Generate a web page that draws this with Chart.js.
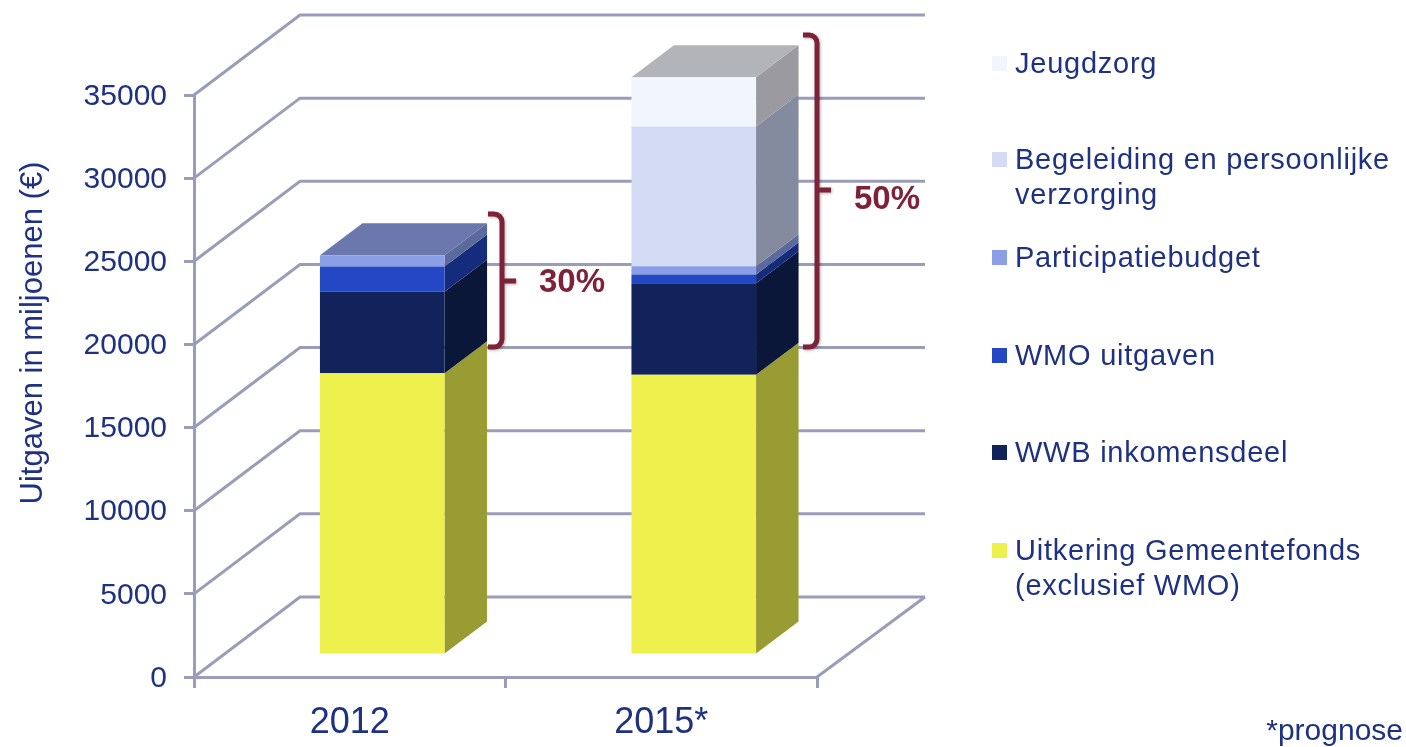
<!DOCTYPE html>
<html>
<head>
<meta charset="utf-8">
<title>Uitgaven gemeenten</title>
<script src="https://cdn.jsdelivr.net/npm/chart.js@4/dist/chart.umd.min.js"></script>
<style>
  html, body { margin: 0; padding: 0; background: #fff; }
  canvas { display: block; }
</style>
</head>
<body>
<canvas id="uitgavenChart" width="1406" height="747"></canvas>
<script>
  const years = ['2012', '2015*'];

  const gemeentefonds = [16940, 16860];
  const wwbInkomensdeel = [4900, 5500];
  const wmoUitgaven = [1520, 520];
  const participatiebudget = [680, 500];
  const begeleiding = [0, 8400];
  const jeugdzorg = [0, 2970];

  const navy = '#1f3282';
  const maroon = '#7d2238';
  const gridColor = '#9a9dba';
  const fontName = '"Liberation Sans", Arial, sans-serif';

  // 3D look: offset of the bars on the floor, depth of the bars, depth of the walls
  const barShift = { x: 32.5, y: -22 };
  const barDepth = { x: 42.5, y: -32 };
  const wallDepth = { x: 106, y: -80 };

  const series = [
    { label: 'Uitkering Gemeentefonds (exclusief WMO)', data: gemeentefonds, front: '#eef04e', side: '#999b33', top: '#999b33', legendY: 552, lines: ['Uitkering Gemeentefonds', '(exclusief WMO)'] },
    { label: 'WWB inkomensdeel', data: wwbInkomensdeel, front: '#12235c', side: '#0a1739', top: '#0a1739', legendY: 454, lines: ['WWB inkomensdeel'] },
    { label: 'WMO uitgaven', data: wmoUitgaven, front: '#2448c4', side: '#152c7c', top: '#152c7c', legendY: 357, lines: ['WMO uitgaven'] },
    { label: 'Participatiebudget', data: participatiebudget, front: '#8a9fe8', side: '#5a6a9c', top: '#6b78ae', legendY: 259, lines: ['Participatiebudget'] },
    { label: 'Begeleiding en persoonlijke verzorging', data: begeleiding, front: '#d3dbf5', side: '#858b9f', top: '#858b9f', legendY: 161, lines: ['Begeleiding en persoonlijke', 'verzorging'] },
    { label: 'Jeugdzorg', data: jeugdzorg, front: '#f1f5fd', side: '#9a9aa0', top: '#b3b4ba', legendY: 65, lines: ['Jeugdzorg'] }
  ];

  function fillPoly(ctx, color, pts) {
    ctx.fillStyle = color;
    ctx.beginPath();
    pts.forEach((p, i) => i ? ctx.lineTo(p[0], p[1]) : ctx.moveTo(p[0], p[1]));
    ctx.closePath();
    ctx.fill();
  }

  function drawBracket(ctx, x, top, bottom, tickY) {
    const r = 8;
    const right = x + 14;
    ctx.save();
    ctx.strokeStyle = maroon;
    ctx.lineWidth = 5;
    ctx.shadowColor = 'rgba(0,0,0,0.3)';
    ctx.shadowBlur = 3;
    ctx.shadowOffsetX = 1;
    ctx.shadowOffsetY = 1;
    ctx.beginPath();
    ctx.moveTo(x, top);
    ctx.arcTo(right, top, right, top + r, r);
    ctx.lineTo(right, bottom - r);
    ctx.arcTo(right, bottom, x, bottom, r);
    ctx.lineTo(x, bottom);
    ctx.moveTo(right, tickY);
    ctx.lineTo(right + 14, tickY);
    ctx.stroke();
    ctx.restore();
  }

  const wallsPlugin = {
    id: 'walls',
    beforeDatasetsDraw(chart) {
      const { ctx, scales: { x, y }, chartArea } = chart;
      ctx.save();
      ctx.strokeStyle = gridColor;
      ctx.lineWidth = 3;
      y.ticks.forEach(t => {
        const py = y.getPixelForValue(t.value);
        ctx.beginPath();
        ctx.moveTo(chartArea.left, py);
        ctx.lineTo(chartArea.left + wallDepth.x, py + wallDepth.y);
        ctx.lineTo(chartArea.right + wallDepth.x + 2, py + wallDepth.y);
        ctx.stroke();
      });
      // right edge of the floor
      ctx.beginPath();
      ctx.moveTo(chartArea.right, chartArea.bottom);
      ctx.lineTo(chartArea.right + wallDepth.x + 2, chartArea.bottom + wallDepth.y);
      ctx.stroke();
      ctx.restore();

      // bars are moved back onto the floor, the library draws the fronts
      ctx.save();
      ctx.translate(barShift.x, barShift.y);
      years.forEach((year, j) => {
        let last = null;
        series.forEach((s, i) => {
          if (!s.data[j]) return;
          const bar = chart.getDatasetMeta(i).data[j];
          const r = bar.x + bar.width / 2;
          fillPoly(ctx, s.side, [
            [r, bar.base], [r, bar.y],
            [r + barDepth.x, bar.y + barDepth.y], [r + barDepth.x, bar.base + barDepth.y]
          ]);
          last = { s, bar };
        });
        const l = last.bar.x - last.bar.width / 2;
        const r = last.bar.x + last.bar.width / 2;
        const t = last.bar.y;
        fillPoly(ctx, last.s.top, [
          [l, t], [r, t], [r + barDepth.x, t + barDepth.y], [l + barDepth.x, t + barDepth.y]
        ]);
      });
    },
    afterDatasetsDraw(chart) {
      const ctx = chart.ctx;
      ctx.restore();

      drawBracket(ctx, 488, 214, 347, 281);
      drawBracket(ctx, 803, 35, 347, 190);

      ctx.save();
      ctx.fillStyle = maroon;
      ctx.font = 'bold 33px ' + fontName;
      ctx.textBaseline = 'middle';
      ctx.textAlign = 'left';
      ctx.fillText('30%', 539, 283);
      ctx.fillText('50%', 854, 200);

      // legend
      ctx.font = '29px ' + fontName;
      ctx.letterSpacing = '0.75px';
      series.forEach(s => {
        ctx.fillStyle = s.front;
        ctx.fillRect(992, s.legendY - 9, 15, 15);
        ctx.fillStyle = navy;
        s.lines.forEach((line, i) => ctx.fillText(line, 1015, s.legendY + i * 35));
      });
      ctx.letterSpacing = '0px';

      ctx.font = '30px ' + fontName;
      ctx.textAlign = 'right';
      ctx.fillText('*prognose', 1403, 732);

      // axis title sits above the middle of the axis
      ctx.font = '31px ' + fontName;
      ctx.translate(33, 333);
      ctx.rotate(-Math.PI / 2);
      ctx.textAlign = 'center';
      ctx.fillText('Uitgaven in miljoenen (€)', 0, 0);
      ctx.restore();
    }
  };

  const uitgavenChart = new Chart(document.getElementById('uitgavenChart').getContext('2d'), {
    type: 'bar',
    data: {
      labels: years,
      datasets: series.map(s => ({
        label: s.label,
        data: s.data,
        backgroundColor: s.front,
        borderWidth: 0,
        barPercentage: 0.4,
        categoryPercentage: 1,
        clip: false
      }))
    },
    options: {
      responsive: false,
      animation: false,
      layout: { padding: { top: 95, right: 589, bottom: 0, left: 0 } },
      plugins: {
        legend: { display: false },
        tooltip: { enabled: false }
      },
      scales: {
        x: {
          stacked: true,
          grid: { drawOnChartArea: false, color: gridColor, lineWidth: 3, tickLength: 11, tickColor: gridColor },
          border: { color: gridColor, width: 3 },
          ticks: { color: navy, font: { family: fontName, size: 36 }, padding: 13 },
          afterFit: s => { s.height = 747 - 677; }
        },
        y: {
          stacked: true,
          min: 0,
          max: 35000,
          grid: { drawOnChartArea: false, color: gridColor, lineWidth: 3, tickLength: 10, tickColor: gridColor },
          border: { color: gridColor, width: 3 },
          ticks: {
            stepSize: 5000,
            color: navy,
            font: { family: fontName, size: 30 },
            padding: 17,
            labelOffset: 1.5,
            callback: v => String(v)
          },
          afterFit: s => { s.width = 194; }
        }
      }
    },
    plugins: [wallsPlugin]
  });
</script>
</body>
</html>
